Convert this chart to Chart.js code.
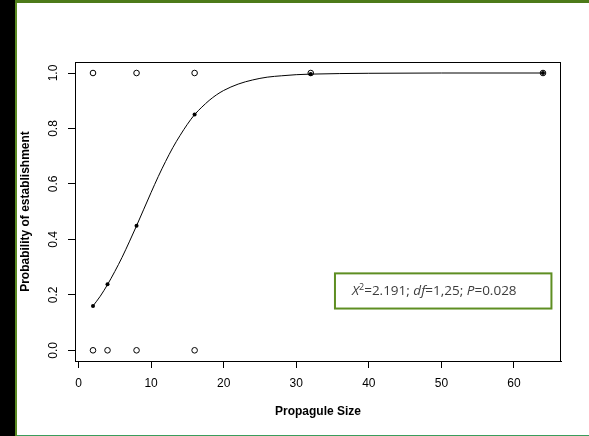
<!DOCTYPE html>
<html>
<head>
<meta charset="utf-8">
<script src="https://cdn.jsdelivr.net/npm/chart.js@4"></script>
<style>
  html, body { margin: 0; padding: 0; }
  body { width: 589px; height: 436px; position: relative; overflow: hidden; background: #fff; }
  #strip { position: absolute; left: 0; top: 0; width: 15px; height: 436px; background: #000; }
  #vline { position: absolute; left: 15px; top: 0; width: 2px; height: 436px; background: #5b8a22; }
  #topbar { position: absolute; left: 15px; top: 0; width: 574px; height: 3px; background: #4d7a19; }
  #botline { position: absolute; left: 17px; top: 435px; width: 572px; height: 1px; background: #3a9c5c; }
  #chart { position: absolute; left: 0; top: 0; }
</style>
</head>
<body>
<div id="strip"></div>
<div id="vline"></div>
<div id="topbar"></div>
<div id="botline"></div>
<canvas id="chart" width="589" height="436"></canvas>
<script>
// propagule sizes tested and what happened
var sizes = [2, 4, 8, 16, 32, 64]
var fitted = [0.16, 0.238, 0.449, 0.85, 0.996, 1.0]
var establishedX = [2, 8, 16, 32, 64]
var failedX = [2, 4, 8, 16]

// fitted logistic curve
var curveX = [2, 3, 4, 5, 6, 7, 8, 9, 10, 11, 12, 13, 14, 15, 16, 17, 18, 19, 20, 22, 24, 26, 28, 30, 32, 36, 40, 50, 64]
var curveY = [0.16, 0.195, 0.237, 0.284, 0.335, 0.391, 0.449, 0.509, 0.569, 0.627, 0.681, 0.731, 0.775, 0.815, 0.85, 0.877, 0.901, 0.921, 0.937, 0.96, 0.975, 0.985, 0.99, 0.994, 0.996, 0.998, 0.999, 1.0, 1.0]

var xTicks = [0, 10, 20, 30, 40, 50, 60]
var yTicks = [0, 0.2, 0.4, 0.6, 0.8, 1.0]
var yTickLabels = ["0.0", "0.2", "0.4", "0.6", "0.8", "1.0"]

var statParts = [
    {t: "X", it: true}, {t: "2", sup: true}, {t: "=2.191; "},
    {t: "df", it: true}, {t: "=1,25; "},
    {t: "P", it: true}, {t: "=0.028"}
]
// where the stats box sits, in data units
var statBox = {x0: 35.2, x1: 65.3, y0: 0.281, y1: 0.147}

var rFont = "'Liberation Sans', Arial, sans-serif"

function pts(xs, ys){
    return xs.map(function(x, i){ return {x: x, y: Array.isArray(ys) ? ys[i] : ys} })
}

var framePlugin = {
    id: "frame",
    afterDraw: function(chart){
        var ctx = chart.ctx
        var ca = chart.chartArea
        var ys = chart.scales.y
        var xs = chart.scales.x
        ctx.save()
        // box round the plot
        ctx.strokeStyle = "#000"
        ctx.lineWidth = 1
        ctx.strokeRect(ca.left + 0.5, ca.top + 0.5, ca.right - ca.left - 1, ca.bottom - ca.top)
        // y tick labels, turned like R does
        ctx.fillStyle = "#000"
        ctx.font = "12px " + rFont
        ctx.textAlign = "center"
        ctx.textBaseline = "middle"
        for(var i = 0; i < yTicks.length; i++){
            var py = ys.getPixelForValue(yTicks[i])
            ctx.save()
            ctx.translate(54, py)
            ctx.rotate(-Math.PI / 2)
            ctx.fillText(yTickLabels[i], 0, 0)
            ctx.restore()
        }
        // stats box
        var bx0 = xs.getPixelForValue(statBox.x0)
        var bx1 = xs.getPixelForValue(statBox.x1)
        var by0 = ys.getPixelForValue(statBox.y0)
        var by1 = ys.getPixelForValue(statBox.y1)
        ctx.fillStyle = "#fff"
        ctx.fillRect(bx0, by0, bx1 - bx0, by1 - by0)
        ctx.strokeStyle = "#5e8e22"
        ctx.lineWidth = 2
        ctx.strokeRect(bx0 + 1, by0 + 1, bx1 - bx0 - 2, by1 - by0 - 2)
        ctx.fillStyle = "#3c3c3c"
        ctx.textAlign = "left"
        ctx.textBaseline = "alphabetic"
        var tx = bx0 + 18
        var base = (by0 + by1) / 2 + 4.5
        statParts.forEach(function(p){
            if(p.sup){
                ctx.font = "9px 'Open Sans', sans-serif"
                ctx.fillText(p.t, tx, base - 5)
            } else {
                ctx.font = (p.it ? "italic " : "") + "13.5px 'Open Sans', sans-serif"
                ctx.fillText(p.t, tx, base)
            }
            tx += ctx.measureText(p.t).width
        })
        ctx.restore()
    }
}

new Chart(document.getElementById("chart"), {
    type: "scatter",
    data: {
        datasets: [
            {
                data: pts(curveX, curveY),
                showLine: true,
                borderColor: "#000",
                borderWidth: 1,
                pointRadius: 0,
                tension: 0.3,
                cubicInterpolationMode: "monotone"
            },
            {
                data: pts(sizes, fitted),
                pointRadius: 2,
                pointBackgroundColor: "#000",
                pointBorderColor: "#000",
                pointBorderWidth: 0
            },
            {
                data: pts(establishedX, 1),
                pointRadius: 2.8,
                pointBackgroundColor: "rgba(0,0,0,0)",
                pointBorderColor: "#000",
                pointBorderWidth: 1
            },
            {
                data: pts(failedX, 0),
                pointRadius: 2.8,
                pointBackgroundColor: "rgba(0,0,0,0)",
                pointBorderColor: "#000",
                pointBorderWidth: 1
            }
        ]
    },
    options: {
        responsive: false,
        animation: false,
        devicePixelRatio: 1,
        layout: {padding: {left: 0, right: 28, top: 62, bottom: 0}},
        plugins: {legend: {display: false}, tooltip: {enabled: false}},
        scales: {
            x: {
                type: "linear",
                position: "bottom",
                min: -0.48,
                max: 66.48,
                afterBuildTicks: function(s){ s.ticks = xTicks.map(function(v){ return {value: v} }) },
                afterFit: function(s){ s.height = 75 },
                ticks: {color: "#000", font: {size: 12, family: rFont}, padding: 8, maxRotation: 0, autoSkip: false},
                grid: {drawOnChartArea: false, drawTicks: true, tickLength: 7, color: "#000", lineWidth: 1},
                border: {display: true, color: "#000", width: 1},
                title: {display: true, text: "Propagule Size", color: "#000", font: {size: 12, weight: "bold", family: rFont}, padding: {top: 0, bottom: 17}}
            },
            y: {
                type: "linear",
                min: -0.0386,
                max: 1.0397,
                afterBuildTicks: function(s){ s.ticks = yTicks.map(function(v){ return {value: v} }) },
                afterFit: function(s){ s.width = 75 },
                ticks: {display: false},
                grid: {drawOnChartArea: false, drawTicks: true, tickLength: 7, color: "#000", lineWidth: 1},
                border: {display: true, color: "#000", width: 1},
                title: {display: true, text: "Probability of establishment", color: "#000", font: {size: 12, weight: "bold", family: rFont}, padding: {top: 18, bottom: 0}}
            }
        }
    },
    plugins: [framePlugin]
})
</script>
</body>
</html>
